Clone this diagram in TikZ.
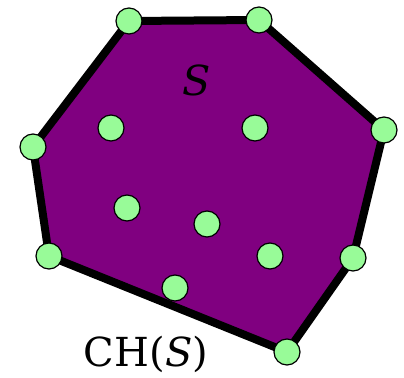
\documentclass[tikz,border=0pt]{standalone}
\usepackage{fontspec}
\setmainfont{DejaVu Serif}
\usetikzlibrary{backgrounds}
\definecolor{hullpurple}{HTML}{800080}
\definecolor{ptgreen}{HTML}{98FB98}
\begin{document}
\begin{tikzpicture}[x=0.75pt,y=-0.75pt]
\tikzset{pt/.style={draw, circle, fill=ptgreen, line width=0.9pt, minimum size=19.5pt, inner sep=0pt}}
\useasboundingbox (0,0) rectangle (404,378);
% hull points
\node[pt] (h1) at (129,21) {};
\node[pt] (h2) at (259,20) {};
\node[pt] (h3) at (384,130) {};
\node[pt] (h4) at (353,258) {};
\node[pt] (h5) at (287,352) {};
\node[pt] (h6) at (49,256) {};
\node[pt] (h7) at (33,147) {};
% inner points
\node[pt] (i1) at (111,128) {};
\node[pt] (i2) at (255,128) {};
\node[pt] (i3) at (127,208) {};
\node[pt] (i4) at (207,224) {};
\node[pt] (i5) at (270,256) {};
\node[pt] (i6) at (175,288) {};
\begin{scope}[on background layer]
\draw[fill=hullpurple, line width=6pt, line join=round] (h1.center) -- (h2.center) -- (h3.center) -- (h4.center) -- (h5.center) -- (h6.center) -- (h7.center) -- cycle;
\end{scope}
\node[anchor=base, font=\fontsize{31}{37}\selectfont] (s) at (197,96) {\textit{S}};
\node[anchor=base, font=\fontsize{30}{36}\selectfont] (ch) at (146,366) {CH(\textit{S})};
\end{tikzpicture}
\end{document}
